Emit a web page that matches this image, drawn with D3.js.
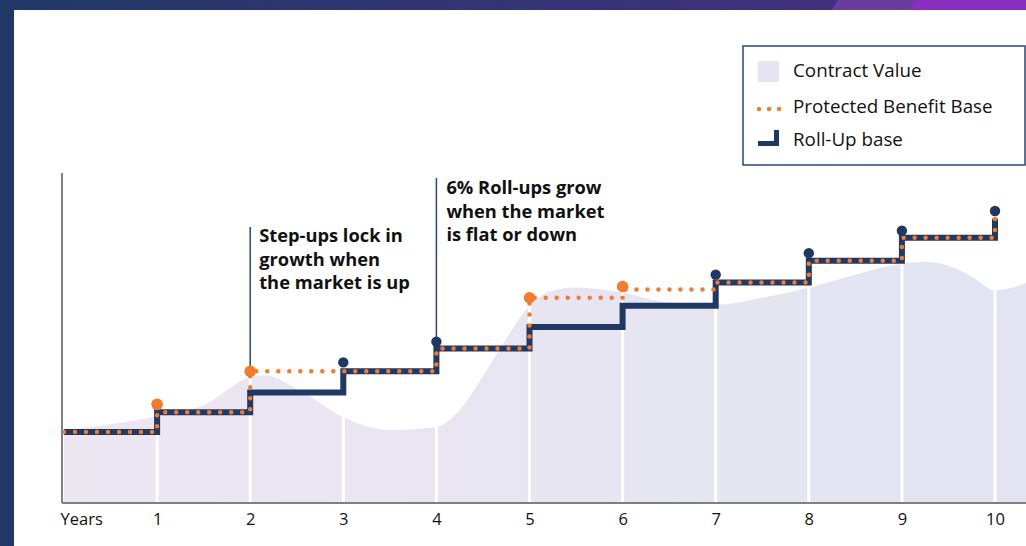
<!DOCTYPE html>
<html>
<head>
<meta charset="utf-8">
<script src="https://cdn.jsdelivr.net/npm/d3@7"></script>
<style>
  body { margin: 0; background: #fff; }
  svg { display: block; font-family: 'Open Sans', 'Noto Sans', sans-serif; }
</style>
</head>
<body>
<div id="chart"></div>
<script>
// chart values (index units, axis runs 0..100)
const years = [0, 1, 2, 3, 4, 5, 6, 7, 8, 9, 10];
const yearLabels = ['Years', '1', '2', '3', '4', '5', '6', '7', '8', '9', '10'];
const rollUpBase = [21.5, 27.5, 33.5, 39.9, 46.8, 53.3, 59.8, 66.8, 73.4, 80.4, 86.1];
const benefitBase = [21.5, 27.5, 39.9, 39.9, 46.8, 62.2, 64.7, 66.8, 73.4, 80.4, 86.1];
const stepUpYears = [1, 2, 5, 6];
const stepUpValues = [29.9, 39.9, 62.2, 65.6];
const rollUpYears = [3, 4, 7, 8, 9, 10];
const rollUpValues = [42.6, 48.9, 69.2, 75.7, 82.5, 88.5];
const contractT = [0, 0.5, 1, 1.5, 2, 2.15, 2.5, 3, 3.5, 4, 4.25, 4.5, 4.75, 5, 5.25, 5.5, 6, 6.5, 7, 7.5, 8, 8.5, 9, 9.25, 9.5, 9.75, 10, 10.15, 10.4];
const contractValues = [22.1, 23.9, 26.3, 29.6, 38.1, 38.7, 34.7, 26.0, 22.1, 23.0, 28.1, 38.4, 49.8, 59.8, 64.4, 65.3, 63.7, 60.7, 60.1, 62.2, 65.3, 69.2, 72.5, 73.1, 71.9, 68.6, 64.4, 65.0, 67.4];
const legendLabels = ['Contract Value', 'Protected Benefit Base', 'Roll-Up base'];
const noteStepUp = ['Step-ups lock in', 'growth when', 'the market is up'];
const noteRollUp = ['6% Roll-ups grow', 'when the market', 'is flat or down'];

const colors = {
  navy: '#1f3864',
  orange: '#f47b2c',
  axis: '#808080'
};

const width = 1026, height = 546;
const plot = { left: 64, right: 995, top: 173, bottom: 503 };

const svg = d3.select('#chart').append('svg')
  .attr('width', width)
  .attr('height', height);

const defs = svg.append('defs');

const areaGrad = defs.append('linearGradient')
  .attr('id', 'areaGrad')
  .attr('x1', '0%').attr('x2', '100%').attr('y1', '0%').attr('y2', '0%');
areaGrad.append('stop').attr('offset', '0%').attr('stop-color', '#ece6f1');
areaGrad.append('stop').attr('offset', '100%').attr('stop-color', '#e2e4f2');

const barGrad = defs.append('linearGradient')
  .attr('id', 'barGrad')
  .attr('x1', '0%').attr('x2', '100%').attr('y1', '0%').attr('y2', '0%');
barGrad.append('stop').attr('offset', '0%').attr('stop-color', '#213967');
barGrad.append('stop').attr('offset', '100%').attr('stop-color', '#40307d');

// page frame: top band and left bar
svg.append('rect').attr('x', 0).attr('y', 0).attr('width', 840).attr('height', 10).attr('fill', 'url(#barGrad)');
svg.append('rect').attr('x', 900).attr('y', 0).attr('width', 126).attr('height', 10).attr('fill', '#8a2ebf');
svg.append('path').attr('d', 'M832,10 L838,0 L917,0 L909,10 Z').attr('fill', '#6a3d9d');
svg.append('rect').attr('x', 0).attr('y', 0).attr('width', 14).attr('height', height).attr('fill', '#203866');

const x = d3.scaleLinear().domain([0, 10]).range([plot.left, plot.right]);
const y = d3.scaleLinear().domain([0, 100]).range([plot.bottom, plot.top]);

const contract = contractT.map((t, i) => ({ t: t, v: contractValues[i] }));

const area = d3.area()
  .x(d => x(d.t))
  .y0(y(0))
  .y1(d => y(d.v))
  .curve(d3.curveMonotoneX);

defs.append('clipPath').attr('id', 'areaClip')
  .append('path').attr('d', area(contract));

svg.append('path')
  .attr('d', area(contract))
  .attr('fill', 'url(#areaGrad)');

// white year separators inside the contract value area
svg.append('g')
  .attr('clip-path', 'url(#areaClip)')
  .selectAll('line')
  .data(years.slice(1))
  .enter().append('line')
    .attr('x1', d => x(d)).attr('x2', d => x(d))
    .attr('y1', plot.top).attr('y2', plot.bottom)
    .attr('stroke', '#fff')
    .attr('stroke-width', 3);

// axes
svg.append('line')
  .attr('x1', plot.left - 2).attr('x2', width)
  .attr('y1', plot.bottom).attr('y2', plot.bottom)
  .attr('stroke', colors.axis).attr('stroke-width', 2);
svg.append('line')
  .attr('x1', plot.left - 2).attr('x2', plot.left - 2)
  .attr('y1', plot.top).attr('y2', plot.bottom)
  .attr('stroke', colors.axis).attr('stroke-width', 2);

const xAxis = svg.append('g')
  .attr('transform', 'translate(0,' + plot.bottom + ')')
  .call(d3.axisBottom(x).tickValues(years).tickSize(0).tickPadding(0).tickFormat((d, i) => yearLabels[i]));
xAxis.select('.domain').remove();
xAxis.selectAll('text')
  .attr('y', 22)
  .attr('dy', 0)
  .attr('fill', '#111')
  .style('font-family', "'Open Sans', sans-serif")
  .style('font-size', '16.5px');
xAxis.selectAll('.tick').filter(d => d === 0).select('text')
  .attr('text-anchor', 'start')
  .attr('x', -4);

// annotation leader lines
svg.append('line')
  .attr('x1', x(2)).attr('x2', x(2))
  .attr('y1', 227).attr('y2', y(stepUpValues[1]))
  .attr('stroke', '#2b4577').attr('stroke-width', 1.5);
svg.append('line')
  .attr('x1', x(4)).attr('x2', x(4))
  .attr('y1', 178).attr('y2', y(rollUpValues[1]))
  .attr('stroke', '#2b4577').attr('stroke-width', 1.5);

const stepLine = d3.line()
  .x((d, i) => x(years[i]))
  .y(d => y(d))
  .curve(d3.curveStepAfter);

svg.append('path')
  .attr('d', stepLine(rollUpBase))
  .attr('fill', 'none')
  .attr('stroke', colors.navy)
  .attr('stroke-width', 6);

svg.append('path')
  .attr('d', stepLine(benefitBase))
  .attr('fill', 'none')
  .attr('stroke', colors.orange)
  .attr('stroke-width', 4.5)
  .attr('stroke-linecap', 'round')
  .attr('stroke-dasharray', '0 11');

svg.append('g').selectAll('circle')
  .data(rollUpYears)
  .enter().append('circle')
    .attr('cx', d => x(d))
    .attr('cy', (d, i) => y(rollUpValues[i]))
    .attr('r', 5.2)
    .attr('fill', colors.navy);

svg.append('g').selectAll('circle')
  .data(stepUpYears)
  .enter().append('circle')
    .attr('cx', d => x(d))
    .attr('cy', (d, i) => y(stepUpValues[i]))
    .attr('r', 5.8)
    .attr('fill', colors.orange);

// annotation text
function note(lines, left, baseline) {
  svg.append('text')
    .attr('x', left)
    .attr('y', baseline)
    .attr('fill', '#111')
    .style('font-weight', 700)
    .style('font-size', '18.3px')
    .selectAll('tspan')
    .data(lines)
    .enter().append('tspan')
      .attr('x', left)
      .attr('dy', (d, i) => i === 0 ? 0 : 23.5)
      .text(d => d);
}
note(noteStepUp, x(2) + 9, 242);
note(noteRollUp, x(4) + 10, 194);

// legend
const legend = svg.append('g').attr('transform', 'translate(743,46)');
legend.append('rect')
  .attr('width', 282).attr('height', 119)
  .attr('fill', '#fff')
  .attr('stroke', '#2b4577').attr('stroke-width', 1.5);

legend.append('rect')
  .attr('x', 15).attr('y', 15).attr('width', 21).attr('height', 21)
  .attr('fill', '#e6e4f2');
legend.append('g').selectAll('circle')
  .data([0, 1, 2])
  .enter().append('circle')
    .attr('cx', d => 16 + d * 10)
    .attr('cy', 63)
    .attr('r', 2.2)
    .attr('fill', colors.orange);
legend.append('path')
  .attr('d', 'M15,97.5 H33.5 V84')
  .attr('fill', 'none')
  .attr('stroke', colors.navy)
  .attr('stroke-width', 5);

legend.selectAll('text.label')
  .data(legendLabels)
  .enter().append('text')
    .attr('class', 'label')
    .attr('x', 50)
    .attr('y', (d, i) => [31, 67, 100][i])
    .attr('fill', '#111')
    .style('font-size', '18.8px')
    .text(d => d);
</script>
</body>
</html>
